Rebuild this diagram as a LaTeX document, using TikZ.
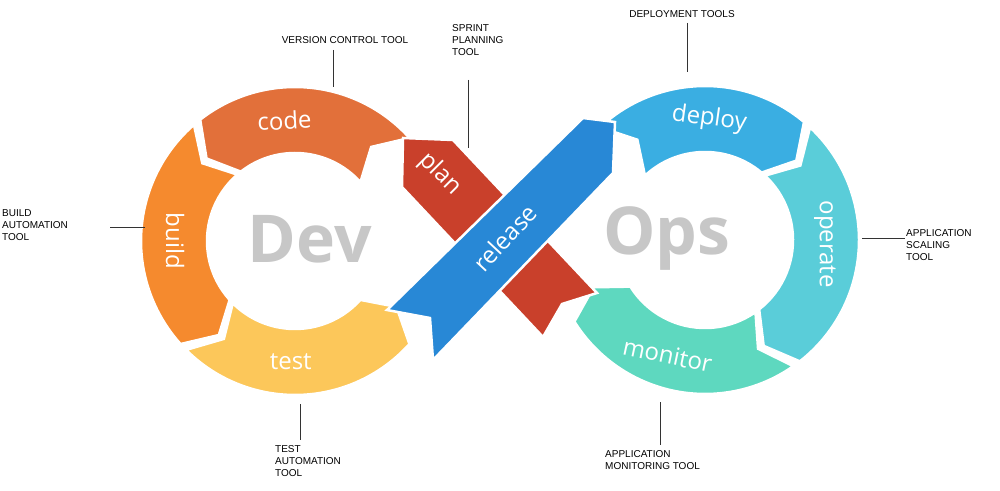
\documentclass[tikz,border=0pt]{standalone}
\usepackage{fontspec}
\setmainfont{Open Sans}
\newfontfamily\lblfont{Liberation Sans}
\usetikzlibrary{calc}
\definecolor{ccode}{HTML}{E2703A}
\definecolor{cbuild}{HTML}{F58A2E}
\definecolor{ctest}{HTML}{FCC75A}
\definecolor{cplan}{HTML}{C9402B}
\definecolor{crel}{HTML}{2888D6}
\definecolor{cdep}{HTML}{3AAEE2}
\definecolor{cop}{HTML}{5ACDD9}
\definecolor{cmon}{HTML}{5ED8BF}
\newcommand\ringseg[4]{%
  \pgfmathsetmacro\sA{#2}\pgfmathsetmacro\sB{#3}%
  \pgfmathsetmacro\sgn{sign(#3-#2)}%
  \pgfmathsetmacro\tB{#3+\sgn*9}\pgfmathsetmacro\tA{#2+\sgn*9}%
  \fill[#4,draw=white,line width=2.5pt,line join=miter]
    ($(#1)+(\sA:154)$) arc[start angle=\sA,end angle=\sB,radius=154]
    -- ($(#1)+(\tB:121)$) -- ($(#1)+(\sB:88)$)
    arc[start angle=\sB,end angle=\sA,radius=88]
    -- ($(#1)+(\tA:121)$) -- cycle;}
\tikzset{segtxt/.style={text=white,font=\fontsize{24}{24}\selectfont},
  big/.style={text=black!22,font=\fontsize{66}{66}\selectfont\bfseries},
  lbl/.style={font=\lblfont\fontsize{10}{12}\selectfont,align=left,inner sep=0pt},
  lead/.style={draw=black!80,line width=0.6pt}}
\begin{document}
\begin{tikzpicture}[x=1pt,y=1pt]
\useasboundingbox (0,0) rectangle (1000,490);
\fill[white] (0,0) rectangle (1000,490);
\coordinate (L) at (295,249);
\coordinate (R) at (705,250);
\ringseg{L}{42}{128}{ccode}
\ringseg{L}{131}{222}{cbuild}
\ringseg{L}{225}{318}{ctest}
\ringseg{R}{133}{50}{cdep}
\ringseg{R}{47}{-52}{cop}
\ringseg{R}{-55}{-148}{cmon}
% plan band
\fill[cplan,draw=white,line width=2.5pt] (403,352) -- (453,350) -- (597,197) -- (562,186) -- (543,153) -- (402,303) -- cycle;
% release band
\fill[crel,draw=white,line width=2.5pt] (387,180) -- (430,172) -- (433,130) -- (613,317) -- (615,368) -- (583,372) -- cycle;
\node[big] (dev) at (310,251) {Dev};
\node[big] (ops) at (667,251) {Ops};
\node[segtxt,rotate=3] (tcode) at ($(L)+(95:121)$) {code};
\node[segtxt,rotate=-90] (tbuild) at ($(L)+(180:120)$) {build};
\node[segtxt] (ttest) at ($(L)+(268:121)$) {test};
\node[segtxt,rotate=-8] (tdep) at ($(R)+(88:121)$) {deploy};
\node[segtxt,rotate=-90] (top) at ($(R)+(-2:120)$) {operate};
\node[segtxt,rotate=-12] (tmon) at ($(R)+(252:121)$) {monitor};
\node[segtxt,rotate=-45] (tplan) at (440,316) {plan};
\node[segtxt,rotate=47] (trel) at (505,252) {release};
% labels
\node[lbl] (l1) at (345,450) {VERSION CONTROL TOOL};
\coordinate (l1e) at (333,403);
\draw[lead] (333,440) -- (l1e);
\node[lbl,anchor=north west] (l2) at (452,466) {SPRINT\\PLANNING\\TOOL};
\coordinate (l2e) at (468,342);
\draw[lead] (468,410) -- (l2e);
\node[lbl] (l3) at (682,476) {DEPLOYMENT TOOLS};
\coordinate (l3e) at (687,418);
\draw[lead] (687,467) -- (l3e);
\node[lbl,anchor=west] (l4) at (2,265) {BUILD\\AUTOMATION\\TOOL};
\coordinate (l4e) at (145,263);
\draw[lead] (110,263) -- (l4e);
\node[lbl,anchor=west] (l5) at (906,245) {APPLICATION\\SCALING\\TOOL};
\coordinate (l5e) at (862,252);
\draw[lead] (l5e) -- (905,252);
\node[lbl,anchor=north west] (l6) at (275,45) {TEST\\AUTOMATION\\TOOL};
\coordinate (l6e) at (300,86);
\draw[lead] (l6e) -- (300,50);
\node[lbl,anchor=north west] (l7) at (605,40) {APPLICATION\\MONITORING TOOL};
\coordinate (l7e) at (660,88);
\draw[lead] (l7e) -- (660,45);
\end{tikzpicture}
\end{document}
